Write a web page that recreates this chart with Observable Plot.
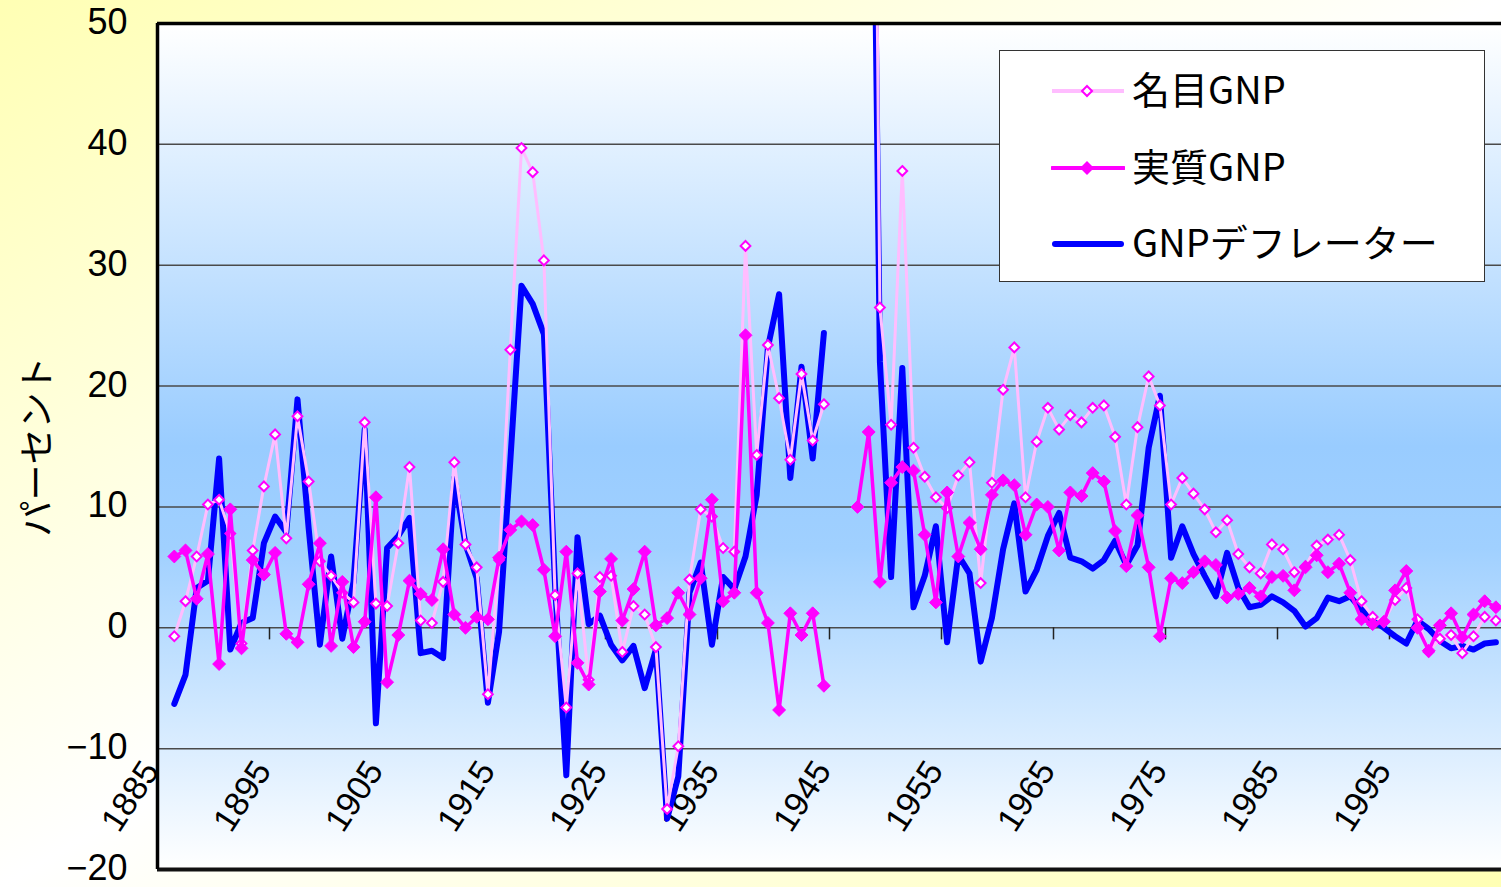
<!DOCTYPE html>
<html>
<head>
<meta charset="utf-8">
<script src="https://cdn.jsdelivr.net/npm/d3@7"></script>
<script src="https://cdn.jsdelivr.net/npm/@observablehq/plot@0.6"></script>
<style>
  html, body { margin: 0; padding: 0; }
  body {
    width: 1501px; height: 887px; overflow: hidden; position: relative;
    background: linear-gradient(to bottom right, #FFFFB4 0%, #FFFFFF 50%, #FFFFB4 100%);
    font-family: "Noto Sans CJK JP", sans-serif;
  }
  #chart { position: absolute; left: 0; top: 0; }
  #legend {
    position: absolute; left: 999px; top: 50px; width: 486px; height: 232px;
    background: #fff; border: 1.5px solid #333; box-sizing: border-box;
  }
  .row { position: absolute; left: 0; width: 100%; height: 50px; }
  .row svg { position: absolute; left: 51px; top: 15px; }
  .row span {
    position: absolute; left: 132px; top: 0; height: 50px; line-height: 50px;
    font-size: 38px; color: #000; white-space: nowrap;
  }
</style>
</head>
<body>
<div id="chart"></div>
<div id="legend"></div>
<script>
// ---- data (percent change) ----
const years = [1886,1887,1888,1889,1890,1891,1892,1893,1894,1895,1896,1897,1898,1899,
  1900,1901,1902,1903,1904,1905,1906,1907,1908,1909,1910,1911,1912,1913,1914,1915,1916,1917,1918,1919,
  1920,1921,1922,1923,1924,1925,1926,1927,1928,1929,1930,1931,1932,1933,1934,1935,1936,1937,1938,1939,
  1940,1941,1942,1943,1944,1945,1946,1947,1948,1949,1950,1951,1952,1953,1954,1955,1956,1957,1958,1959,
  1960,1961,1962,1963,1964,1965,1966,1967,1968,1969,1970,1971,1972,1973,1974,1975,1976,1977,1978,1979,
  1980,1981,1982,1983,1984,1985,1986,1987,1988,1989,1990,1991,1992,1993,1994,1995,1996,1997,1998,1999,
  2000,2001,2002,2003,2004];

// 名目GNP
const nominal = [-0.7,2.2,5.9,10.2,10.6,7.8,-1.3,6.4,11.7,16.0,7.4,17.5,12.1,5.5,
  4.3,2.9,2.1,17.0,2.0,1.8,7.0,13.3,0.6,0.4,3.8,13.7,6.9,5.0,-5.5,5.6,23.0,39.7,37.7,30.4,
  2.7,-6.6,4.5,-4.3,4.2,4.3,-2.0,1.8,1.1,-1.6,-15.0,-9.8,4.0,9.8,9.2,6.6,6.3,31.6,14.3,23.4,
  19.0,13.9,21.0,15.5,18.5,null,null,175,130,26.5,16.8,37.8,14.9,12.5,10.8,9.9,12.6,13.7,3.7,12.0,
  19.7,23.2,10.8,15.4,18.2,16.4,17.6,17.0,18.2,18.4,15.8,10.2,16.6,20.8,18.4,10.2,12.4,11.1,9.8,7.9,
  8.9,6.1,5.0,4.5,6.9,6.5,4.6,5.1,6.8,7.3,7.7,5.6,2.2,0.9,0.5,2.3,3.3,0.7,-2.0,-0.9,
  -0.6,-2.1,-0.7,0.9,0.6];

// 実質GNP
const real = [5.9,6.4,2.4,6.1,-3.0,9.8,-1.7,5.6,4.4,6.2,-0.5,-1.2,3.6,7.0,
  -1.5,3.8,-1.6,0.5,10.8,-4.5,-0.6,3.9,2.8,2.3,6.5,1.1,0.0,0.9,0.7,5.8,8.1,8.8,8.5,4.8,
  -0.7,6.3,-2.9,-4.7,3.0,5.7,0.6,3.2,6.3,0.2,0.8,2.9,1.1,4.1,10.6,2.2,2.9,24.2,2.9,0.4,
  -6.8,1.2,-0.6,1.2,-4.8,null,null,10.0,16.2,3.8,12.0,13.3,13.0,7.7,2.1,11.2,5.9,8.7,6.5,11.0,
  12.2,11.8,7.7,10.2,10.0,6.4,11.2,10.9,12.8,12.1,8.0,5.1,9.3,5.0,-0.7,4.1,3.7,4.6,5.5,5.2,
  2.5,2.8,3.3,2.6,4.2,4.3,3.1,5.0,6.0,4.6,5.3,2.9,0.7,0.3,0.5,3.1,4.7,0.0,-1.9,0.2,
  1.2,-0.8,1.1,2.2,1.7];

// GNPデフレーター
const deflator = [-6.3,-3.9,3.3,3.9,14.0,-1.8,0.4,0.8,7.0,9.2,7.9,18.9,8.2,-1.4,
  5.9,-0.9,3.8,16.4,-7.9,6.6,7.6,9.1,-2.1,-1.9,-2.5,12.4,6.9,4.1,-6.2,-0.3,13.8,28.3,26.8,24.3,
  3.4,-12.2,7.5,0.3,1.0,-1.4,-2.7,-1.5,-5.0,-1.8,-15.8,-12.3,2.9,5.4,-1.4,4.2,3.2,5.9,11.0,23.2,
  27.6,12.4,21.6,14.0,24.4,null,null,155,98,22.0,4.2,21.5,1.7,4.3,8.4,-1.2,6.0,4.5,-2.8,0.8,
  6.5,10.3,3.0,4.8,7.6,9.5,5.8,5.5,4.9,5.6,7.2,5.2,6.8,14.9,19.2,5.8,8.4,6.1,4.3,2.6,
  6.2,3.3,1.7,1.9,2.6,2.1,1.4,0.1,0.8,2.5,2.2,2.6,1.5,0.6,0.0,-0.7,-1.3,0.6,-0.1,-1.1,
  -1.7,-1.5,-1.8,-1.3,-1.2];

const yTicks = [-20, -10, 0, 10, 20, 30, 40, 50];
const gridValues = [-10, 0, 10, 20, 30, 40];
const decadeLabels = [1885, 1895, 1905, 1915, 1925, 1935, 1945, 1955, 1965, 1975, 1985, 1995];
const seriesNames = ["名目GNP", "実質GNP", "GNPデフレーター"];
const yTitle = "パーセント";

// ---- table built from arrays ----
const rows = years.map((year, i) => ({year, nominal: nominal[i], real: real[i], deflator: deflator[i]}));

const gradientDefs = () => {
  const defs = document.createElementNS("http://www.w3.org/2000/svg", "defs");
  defs.innerHTML = `<linearGradient id="plotbg" x1="0" y1="0" x2="0" y2="1">
      <stop offset="0" stop-color="#ffffff"/>
      <stop offset="0.5" stop-color="#99ccff"/>
      <stop offset="0.62" stop-color="#a0d0ff"/>
      <stop offset="1" stop-color="#ffffff"/>
    </linearGradient>`;
  return defs;
};

const minus = d => (d < 0 ? "\u2212" + Math.abs(d) : String(d));
const font = '"Noto Sans CJK JP", sans-serif';
const numFont = '"Liberation Sans", Arial, sans-serif';

const chart = Plot.plot({
  width: 1501,
  height: 887,
  marginLeft: 157,
  marginRight: 0,
  marginTop: 23,
  marginBottom: 18,
  style: {background: "transparent", fontFamily: font, color: "#000", overflow: "visible"},
  x: {domain: [1884.5, 2004.5], axis: null},
  y: {domain: [-20, 50], axis: null},
  marks: [
    gradientDefs,
    Plot.frame({fill: "url(#plotbg)", stroke: "none"}),
    Plot.ruleY(gridValues, {stroke: "#4a4a4a", strokeWidth: 1.5}),
    Plot.axisY(yTicks, {tickSize: 0, tickPadding: 30, fontSize: 36, fontFamily: numFont,
      dy: -1, tickFormat: minus, label: null}),
    Plot.ruleX(decadeLabels, {x: d => d - 0.5, y1: 0, y2: -1, stroke: "#222", strokeWidth: 1.5}),
    Plot.text(decadeLabels, {x: d => d, y: -10, text: d => String(d), rotate: -57, textAnchor: "end",
      dx: -12, dy: 16, fontSize: 34, fontFamily: numFont, fill: "#000"}),
    Plot.line(rows, {x: "year", y: "deflator", stroke: "#0000ff", strokeWidth: 6,
      strokeLinejoin: "round", strokeLinecap: "round", clip: true}),
    Plot.line(rows, {x: "year", y: "nominal", stroke: "#ffbdff", strokeWidth: 3, clip: true}),
    Plot.dot(rows, {x: "year", y: "nominal", symbol: "diamond2", r: 4.4, fill: "#ffffff",
      stroke: "#ff00ff", strokeWidth: 2, clip: true}),
    Plot.line(rows, {x: "year", y: "real", stroke: "#ff00ff", strokeWidth: 3.5, clip: true}),
    Plot.dot(rows, {x: "year", y: "real", symbol: "diamond2", r: 5.8, fill: "#ff00ff",
      stroke: "#ff00ff", strokeWidth: 1, clip: true}),
    Plot.ruleY([50], {stroke: "#000", strokeWidth: 3.5}),
    Plot.ruleY([-20], {stroke: "#111", strokeWidth: 4}),
    Plot.ruleX([1884.5], {stroke: "#000", strokeWidth: 3.5}),
    Plot.text([yTitle], {frameAnchor: "left", dx: -119, rotate: -90, textAnchor: "middle",
      fontSize: 36, fill: "#000"})
  ]
});
document.getElementById("chart").appendChild(chart);

// ---- legend ----
const legend = document.getElementById("legend");
const samples = [
  `<svg width="74" height="20"><line x1="1" y1="10" x2="73" y2="10" stroke="#ffbdff" stroke-width="4"/>
     <path d="M36,5 L41,10 L36,15 L31,10 Z" fill="#fff" stroke="#ff00ff" stroke-width="2"/></svg>`,
  `<svg width="74" height="20"><line x1="1" y1="10" x2="73" y2="10" stroke="#ff00ff" stroke-width="4" stroke-linecap="round"/>
     <path d="M36,3 L43,10 L36,17 L29,10 Z" fill="#ff00ff"/></svg>`,
  `<svg width="74" height="20"><line x1="4" y1="10" x2="70" y2="10" stroke="#0000ff" stroke-width="6" stroke-linecap="round"/></svg>`
];
const rowTops = [15, 92, 168];
const textShift = -3;
seriesNames.forEach((name, i) => {
  const row = document.createElement("div");
  row.className = "row";
  row.style.top = rowTops[i] + "px";
  row.innerHTML = samples[i] + `<span style="top:${textShift}px">${name}</span>`;
  legend.appendChild(row);
});
</script>
</body>
</html>
